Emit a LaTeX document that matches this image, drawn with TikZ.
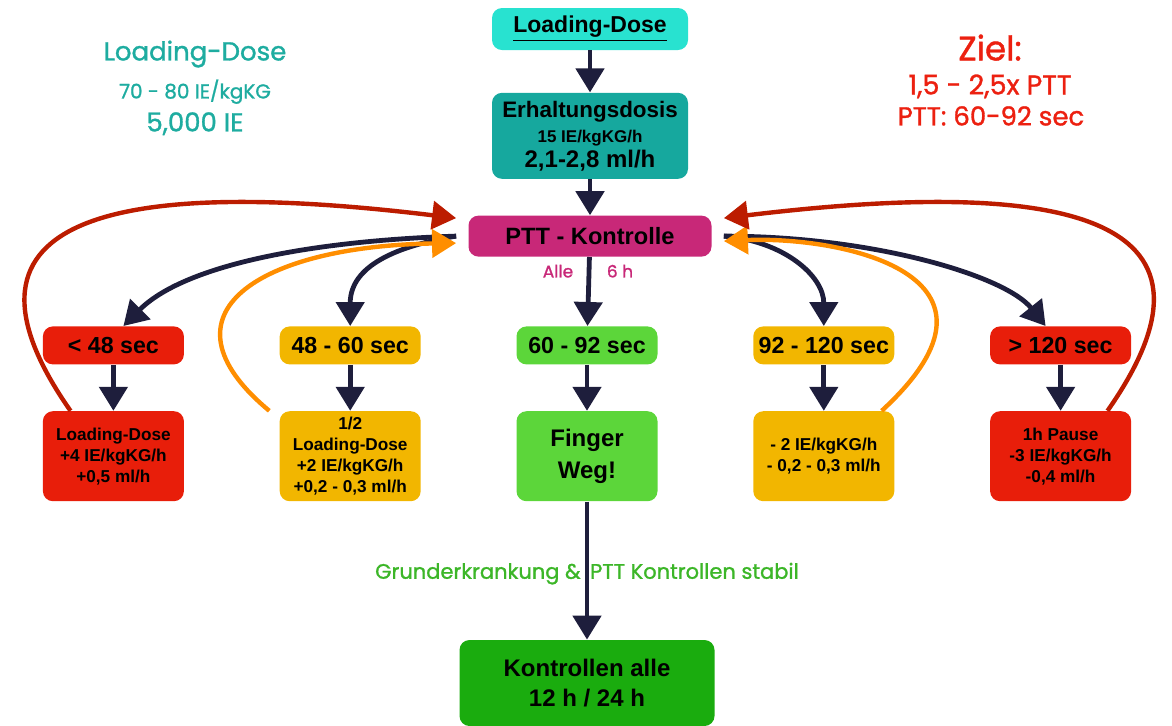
\documentclass[tikz,border=0pt]{standalone}
\usepackage{fontspec}
\setsansfont{Liberation Sans}
\newfontfamily\hand[FakeBold=1.2]{Poppins}
\usetikzlibrary{positioning,arrows.meta}
\definecolor{ldcyan}{RGB}{40,226,208}
\definecolor{erhteal}{RGB}{22,168,158}
\definecolor{pttmag}{RGB}{200,40,120}
\definecolor{boxred}{RGB}{232,30,10}
\definecolor{boxyel}{RGB}{242,182,0}
\definecolor{boxgrn}{RGB}{92,214,58}
\definecolor{boxdkgrn}{RGB}{26,172,14}
\definecolor{navy}{RGB}{30,30,60}
\definecolor{arred}{RGB}{188,28,0}
\definecolor{arorange}{RGB}{255,142,0}
\definecolor{tealtxt}{RGB}{30,172,160}
\definecolor{redtxt}{RGB}{236,32,16}
\definecolor{grntxt}{RGB}{60,182,40}

\begin{document}
\begin{tikzpicture}[x=0.5pt,y=-0.5pt,font=\sffamily\bfseries,
  >={Triangle[length=12pt,width=14pt]},
  box/.style={rectangle,rounded corners=5pt,align=center,inner sep=2pt,text=black},
  sec/.style={box,minimum width=70.5pt,minimum height=19pt,font=\sffamily\bfseries\fontsize{11.6}{13}\selectfont},
  act/.style={box,minimum width=70.5pt,minimum height=45pt,font=\sffamily\bfseries\fontsize{8.6}{10.5}\selectfont},
  ar/.style={->,line width=2.4pt,navy},
  back/.style={->,line width=2.2pt},
  note/.style={font=\hand\fontsize{#1}{#1}\selectfont,inner sep=1pt,text height=0.74em,text depth=0.2em}]
\useasboundingbox (0,0) rectangle (1172,725);
% main column
\node[box,fill=ldcyan,minimum width=98pt,minimum height=21pt,font=\sffamily\bfseries\fontsize{11.5}{12}\selectfont](ld) at (590,29){\underline{Loading-Dose}};
\node[box,fill=erhteal,minimum width=98pt,minimum height=43pt,below=21pt of ld,font=\sffamily\bfseries\fontsize{11.2}{12.5}\selectfont](erh){Erhaltungsdosis\\{\fontsize{8.5}{9}\selectfont 15 IE/kgKG/h}\\{\fontsize{12}{13}\selectfont 2,1-2,8 ml/h}};
\node[box,fill=pttmag,minimum width=121.5pt,minimum height=20.5pt,below=18pt of erh,font=\sffamily\bfseries\fontsize{11.8}{13}\selectfont](ptt){PTT - Kontrolle};
% PTT ranges
\node[sec,fill=boxgrn,below=34.5pt of ptt,xshift=-1.5pt](s3){60 - 92 sec};
\node[sec,fill=boxyel,left=47.5pt of s3](s2){48 - 60 sec};
\node[sec,fill=boxred,left=47.5pt of s2](s1){< 48 sec};
\node[sec,fill=boxyel,right=47.5pt of s3](s4){92 - 120 sec};
\node[sec,fill=boxred,right=47.5pt of s4](s5){> 120 sec};
% actions
\node[act,fill=boxred,below=23pt of s1](a1){Loading-Dose\\+4 IE/kgKG/h\\+0,5 ml/h};
\node[act,fill=boxyel,below=23pt of s2](a2){1/2\\Loading-Dose\\+2 IE/kgKG/h\\+0,2 - 0,3 ml/h};
\node[act,fill=boxgrn,below=23pt of s3,font=\sffamily\bfseries\fontsize{12}{16}\selectfont](a3){Finger\\Weg!};
\node[act,fill=boxyel,below=23pt of s4](a4){- 2 IE/kgKG/h\\- 0,2 - 0,3 ml/h};
\node[act,fill=boxred,below=23pt of s5](a5){1h Pause\\-3 IE/kgKG/h\\-0,4 ml/h};
\node[box,fill=boxdkgrn,minimum width=127.5pt,minimum height=43pt,below=69pt of a3,font=\sffamily\bfseries\fontsize{12}{15}\selectfont](kon){Kontrollen alle\\12 h / 24 h};
% notes
\node[note=13,text=tealtxt](ldnote) at (195,55){Loading-Dose};
\node[note=10,text=tealtxt](ldrate) at (195,93){70 - 80 IE/kgKG};
\node[note=13,text=tealtxt](ldie) at (195,126){5,000 IE};
\node[note=17,text=redtxt](ziel) at (990,55){Ziel:};
\node[note=13.5,text=redtxt](zielx) at (990,89){1,5 - 2,5x PTT};
\node[note=13,text=redtxt](zielptt) at (991,120){PTT: 60-92 sec};
\node[note=8.5,text=pttmag](alle) at (558,272){Alle};
\node[note=8.5,text=pttmag](sechs) at (620,272){6 h};
% arrows
\draw[ar](ld)--(erh);
\draw[ar](erh)--(ptt);
\draw[ar](ptt)--(s3);
\foreach \i in {1,...,5}{\draw[ar](s\i)--(a\i);}
\draw[ar](a3)--node[note=10.5,text=grntxt,pos=0.52]{Grunderkrankung \& \hspace{2pt}PTT Kontrollen stabil}(kon);
\draw[ar]([xshift=-6pt]ptt.west) .. controls +(-150,5) and +(60,-60) .. ([xshift=5pt]s1.north);
\draw[ar]([xshift=-6pt]ptt.west) .. controls +(-60,10) and +(0,-60) .. (s2.north);
\draw[ar]([xshift=6pt]ptt.east) .. controls +(60,5) and +(0,-50) .. (s4.north);
\draw[ar]([xshift=6pt]ptt.east) .. controls +(150,0) and +(-40,-50) .. ([xshift=-7.5pt]s5.north);
% feedback
\draw[back,arred]([xshift=14pt]a1.north west) .. controls +(-140,-200) and +(-330,-40) .. ([shift={(-6pt,9pt)}]ptt.west);
\draw[back,arorange]([xshift=-5pt]a2.north west) .. controls +(-118,-98) and +(-195,3) .. ([shift={(-6pt,-3.5pt)}]ptt.west);
\draw[back,arorange]([xshift=-6.5pt]a4.north east) .. controls +(150,-138) and +(113,-5) .. ([shift={(6pt,-2.5pt)}]ptt.east);
\draw[back,arred]([xshift=-12pt]a5.north east) .. controls +(140,-200) and +(330,-40) .. ([shift={(6pt,9pt)}]ptt.east);
\end{tikzpicture}
\end{document}
